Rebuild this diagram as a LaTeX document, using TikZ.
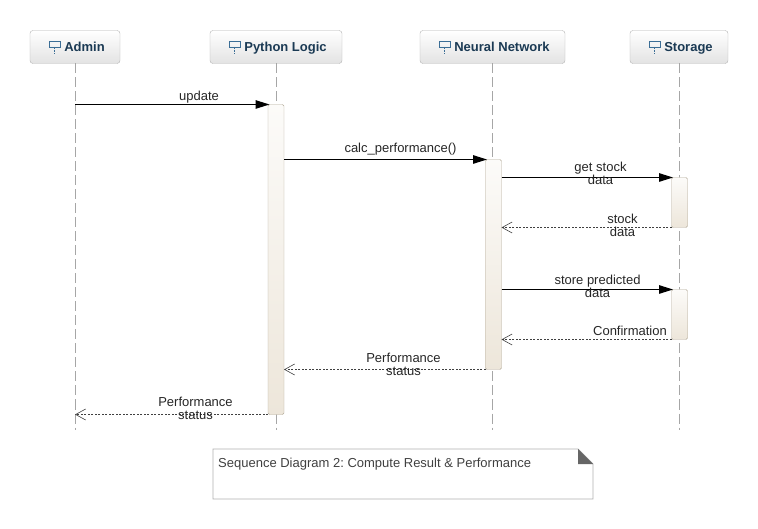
\documentclass[tikz,border=0pt]{standalone}
\usepackage{fontspec}
\setmainfont{Liberation Sans}
\usepackage{xcolor}
\definecolor{Head-text}{RGB}{27, 58, 84}
\definecolor{Head-line}{RGB}{178, 178, 178}
\definecolor{Icon-blue}{RGB}{60, 110, 150}
\definecolor{Bar-line}{RGB}{178, 169, 152}
\definecolor{Bar-top}{RGB}{252, 251, 249}
\definecolor{Bar-end}{RGB}{237, 230, 218}
\definecolor{Note-line}{RGB}{175, 175, 175}
\usetikzlibrary{arrows.meta,positioning,calc}
\frenchspacing

\begin{document}
\begin{tikzpicture} [
    x=1pt, y=-1pt, font=\fontsize{13}{13}\selectfont,
    head/.style = {shape = rectangle, rounded corners = 3pt, minimum height = 33pt, inner sep = 0pt, outer sep = 0pt, align = center, text height = 9pt, text depth = 0pt, draw = Head-line, top color = white, bottom color = black!11, text = Head-text, font = \fontsize{13}{13}\selectfont\bfseries},
    bar/.style = {shape = rectangle, rounded corners = 1.5pt, minimum width = 16pt, inner sep = 0pt, outer sep = 0pt, draw = Bar-line, top color = Bar-top, bottom color = Bar-end},
    msg/.style = {shape = rectangle, align = center, inner sep = 0pt, text = black!85},
    call/.style = {line width = 1.1pt, shorten > = -1.5pt, -{Triangle[length=14pt,width=8.5pt]}},
    back/.style = {line width = 0.6pt, black!75, dash pattern = on 2pt off 1.5pt, -{Straight Barb[length=10pt,width=11pt,line width=0.6pt]}},
    lifeline/.style = {line width = 0.7pt, black!35, dash pattern = on 10pt off 4pt},
    lifeicon/.pic = {
        \draw [Icon-blue, line width = 0.9pt] (0,0) rectangle (11,6);
        \draw [Icon-blue, line width = 0.9pt, dash pattern = on 2pt off 1pt] (5.5,6) -- (5.5,13);
    }
]

\useasboundingbox (0,0) rectangle (758,529);

% heads
\node [head, minimum width = 90pt] (hAdmin) at (75,47){\hspace{19pt}Admin};
\node [head, minimum width = 132pt] (hPython) at (276,47){\hspace{19pt}Python Logic};
\node [head, minimum width = 145pt] (hNeural) at (492.5,47){\hspace{19pt}Neural Network};
\node [head, minimum width = 98pt] (hStorage) at (679,47){\hspace{19pt}Storage};

\coordinate (lineEnd) at (0,430);

% lifelines and icons
\foreach \h in {hAdmin,hPython,hNeural,hStorage} {
    \draw [lifeline] (\h.south) -- (\h.south |- lineEnd);
    \pic at ($(\h.west)+(19,-6)$) {lifeicon};
}

% bars
\node [bar, minimum height = 310pt] (bPython) at (276,259.5){};
\node [bar, minimum height = 210pt] (bNeural) at (493.5,264.5){};
\node [bar, minimum height = 50pt] (bGet) at (679.5,202.5){};
\node [bar, minimum height = 50pt] (bStore) at (679.5,314.5){};

% arrows
\draw [call](hAdmin.south |- bPython.north)--(bPython.north west);
\draw [call](bPython.east |- bNeural.north)--(bNeural.north west);
\draw [call](bNeural.east |- bGet.north)--(bGet.north west);
\draw [back](bGet.south west)--(bNeural.east |- bGet.south);
\draw [call](bNeural.east |- bStore.north)--(bStore.north west);
\draw [back](bStore.south west)--(bNeural.east |- bStore.south);
\draw [back](bNeural.south west)--(bPython.east |- bNeural.south);
\draw [back](bPython.south west)--(hAdmin.south |- bPython.south);

% labels
\node [msg] (tUpdate) at (199,97){update};
\node [msg] (tCalc) at (400.5,149){calc\_performance()};
\node [msg] (tGet) at (600.5,173.5){get stock\\data};
\node [msg] (tStock) at (622.5,225.5){stock\\data};
\node [msg] (tStore) at (597.5,286){store predicted\\data};
\node [msg] (tConfirm) at (630,331){Confirmation};
\node [msg] (tPerfA) at (403.5,364){Performance\\status};
\node [msg] (tPerfB) at (195.5,408){Performance\\status};

% note
\node [shape = rectangle, minimum width = 380pt, minimum height = 50pt, inner sep = 0pt, outer sep = 0pt] (note) at (403,474){};
\draw [Note-line, line width = 0.8pt] (note.north west) -- ($(note.north east)+(-15,0)$) -- ($(note.north east)+(0,15)$) -- (note.south east) -- (note.south west) -- cycle;
\fill [black!60] ($(note.north east)+(-15,0)$) -- ($(note.north east)+(0,15)$) -- ($(note.north east)+(-15,15)$) -- cycle;
\node [msg, anchor = north west, text = black!75] (tNote) at (218,458){Sequence Diagram 2: Compute Result \& Performance};

\end{tikzpicture}
\end{document}
